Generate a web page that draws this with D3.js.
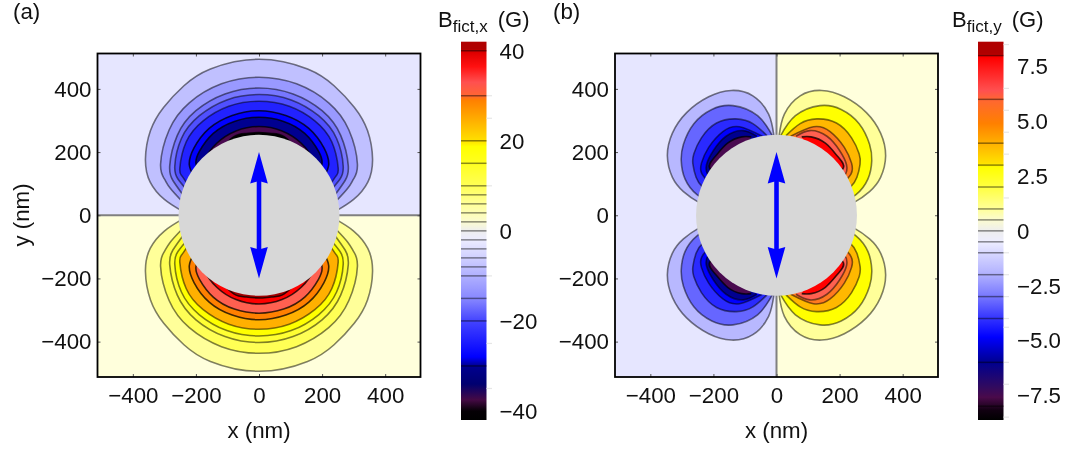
<!DOCTYPE html>
<html><head><meta charset="utf-8">
<script src="https://cdn.jsdelivr.net/npm/d3@7"></script>
<style>html,body{margin:0;background:#fff}svg{display:block;font-family:"Liberation Sans",Arial,sans-serif;fill:#111;filter:blur(0.35px)}</style>
</head><body><div id="c"></div>
<script>
// Contour outlines, quadrant x>=0 y>=0, in nm (outermost first).
const contoursX = [
  [[0,494],[154,463],[238,410],[302,342],[344,268],[360,178],[345,105],[300,50],[245,14]],
  [[0,437],[119,416],[221,356],[285,270],[312,162],[300,115],[282,86],[245,45]],
  [[0,403],[108,384],[200,331],[259,253],[283,157],[273,110],[243,67]],
  [[0,382],[102,365],[189,315],[246,243],[267,155],[257,115],[233,85]],
  [[0,361],[96,345],[177,299],[231,232],[251,150],[245,125],[228,100]],
  [[0,331],[85,316],[158,275],[206,213],[221,160],[205,120]],
  [[0,310],[78,297],[145,259],[189,202],[200,165],[190,130]],
  [[0,281],[73,267],[134,228],[175,169],[190,100]],
  [[0,262],[40,259],[80,249],[130,200]]
];
const contoursY = [
  [[8,250],[25,320],[75,378],[143,395],[215,375],[285,325],[330,260],[346,188],[330,120],[295,75],[245,40],[200,20]],
  [[12,250],[60,315],[138,347],[205,335],[262,290],[295,225],[302,173],[290,115],[252,65],[200,35]],
  [[30,252],[75,290],[127,305],[190,292],[238,245],[262,195],[265,162],[255,120],[235,90],[195,60]],
  [[45,250],[117,280],[170,265],[215,215],[238,165],[236,130],[200,90]],
  [[62,250],[106,268],[160,250],[200,205],[222,160],[215,125],[180,100]],
  [[80,248],[110,248],[155,228],[195,185],[212,150],[170,110]]
];
const bandsXPos = ["#ffff99","#ffff55","#ffff33","#ffff00","#ffb000","#ff8000","#ff6050","#ff0000","#a00000"];
const bandsXNeg = ["#c0c0ff","#9999ff","#7777ff","#5050ff","#2222ff","#0000ff","#000090","#4a0a50","#000000"];
const bandsYPos = ["#ffff99","#ffff00","#ffb800","#ff7a20","#ff6050","#ff0000"];
const bandsYNeg = ["#b8b8ff","#6666ff","#2a2aff","#0000ff","#000090","#4a0a50"];
const bgPos = "#ffffdc", bgNeg = "#e6e6ff";

const axisTicks = [-400,-200,0,200,400];
const levelsX = [40,30,20,15,10,8,6,4,2,0,-2,-4,-6,-8,-10,-15,-20,-30];
const levelsY = [8,6,4,3,2,1,0.5,0,-0.5,-1,-2,-3,-4,-6,-8];
const barLabelsX = [40,20,0,-20,-40];
const barLabelsY = [7.5,5,2.5,0,-2.5,-5,-7.5];
const minorX = [30,25,10,-10,-25,-35];
const minorY = [8.5,6.5,5.5,4.5,3.5,1.5,-1,-2,-3,-4,-4.4,-6,-7,-8.5];
const stopsXVal = [42,40.5,39.5,36.5,33,30,29,25.5,20,18.7,15,10,6,2,0,-2,-6,-10,-15,-20,-28,-30,-34,-37.5,-40,-42];
const stopsXCol = ["#b00000","#b00000","#e00000","#ff1010","#ff5050","#ff6633","#ff8000","#ffa500","#ffe000","#ffff00","#ffff20","#ffff55","#ffff99","#fbfbd0","#eeeeee","#ececff","#d0d0ff","#b0b0ff","#8888ff","#4444ff","#0000ff","#000090","#000070","#450a45","#050005","#000000"];
const stopsYVal = [8.63,8.1,7.9,6.4,6,4.9,4,3.1,2.9,2,1,0.5,0,-0.5,-1,-2,-3,-4,-4.85,-6,-7.1,-7.6,-8.2,-8.63];
const stopsYCol = ["#b00000","#b00000","#ff0000","#ff5050","#ff6633","#ff8000","#ffb000","#ffe000","#ffff00","#ffff40","#ffff99","#fbfbd0","#eeeeee","#eeeeff","#d8d8ff","#b0b0ff","#7777ff","#3333ff","#0000ff","#000090","#300a60","#4a0a4a","#100010","#000000"];
const diskRadius = 255, arrowTip = 200;

const svg = d3.select("#c").append("svg").attr("width",1074).attr("height",450);
const defs = svg.append("defs");
const fmt = d => String(d).replace("-","\u2212");
const FS = 22.3;

function panel(o){
  const x = d3.scaleLinear().domain([-512,512]).range([o.left,o.left+323]);
  const y = d3.scaleLinear().domain([-512,512]).range([377,53.5]);
  const g = svg.append("g");
  defs.append("clipPath").attr("id","clip"+o.id).append("rect")
    .attr("x",x(-512)).attr("y",y(512)).attr("width",x(512)-x(-512)).attr("height",y(-512)-y(512));
  const plot = g.append("g").attr("clip-path",`url(#clip${o.id})`);
  // backgrounds
  o.bg.forEach(b=>plot.append("rect").attr("x",x(b[0])).attr("y",y(b[3])).attr("width",x(b[1])-x(b[0])).attr("height",y(b[2])-y(b[3])).attr("fill",b[4]));
  // lobes
  o.lobes.forEach(l=>{
    l.pts.forEach((c,i)=>{
      const line = d3.line().curve(d3.curveNatural)
        .x(p=>x(l.sx*p[0])).y(p=>y(l.sy*p[1]));
      const pts = l.both ? c.slice().reverse().map(p=>[-p[0],p[1]]).concat(c.slice(1)) : c;
      plot.append("path").attr("d",line(pts)).attr("fill",l.cols[i])
        .attr("stroke","#000").attr("stroke-opacity",i>4?0.75:0.5).attr("stroke-width",1.6);
    });
  });
  // zero line
  plot.append("line").attr("x1",x(o.zero[0])).attr("y1",y(o.zero[1])).attr("x2",x(o.zero[2])).attr("y2",y(o.zero[3]))
    .attr("stroke","#808080").attr("stroke-width",2);
  // disk
  g.append("ellipse").attr("cx",x(0)).attr("cy",y(0)).attr("rx",x(diskRadius)-x(0)).attr("ry",y(0)-y(diskRadius)).attr("fill","#d7d7d7");
  // arrow
  const ax = x(0), yt = y(arrowTip), yb = y(-arrowTip);
  g.append("line").attr("x1",ax).attr("x2",ax).attr("y1",yt+20).attr("y2",yb-20).attr("stroke","#0000ff").attr("stroke-width",4.6);
  [[yt,1],[yb,-1]].forEach(([t,s])=>g.append("path").attr("fill","#0000ff")
    .attr("d",`M${ax},${t}L${ax+8.8},${t+s*31.5}L${ax},${t+s*29}L${ax-8.8},${t+s*31.5}Z`));
  // axes
  const ax1 = g.append("g").attr("transform",`translate(0,${y(-512)})`)
    .call(d3.axisBottom(x).tickValues(axisTicks).tickFormat(fmt).tickSize(-3).tickPadding(10));
  const ax2 = g.append("g").attr("transform",`translate(${x(-512)},0)`)
    .call(d3.axisLeft(y).tickValues(axisTicks).tickFormat(fmt).tickSize(-3).tickPadding(6));
  const ax3 = g.append("g").attr("transform",`translate(0,${y(512)})`)
    .call(d3.axisTop(x).tickValues(axisTicks).tickFormat("").tickSize(-3));
  const ax4 = g.append("g").attr("transform",`translate(${x(512)},0)`)
    .call(d3.axisRight(y).tickValues(axisTicks).tickFormat("").tickSize(-3));
  [ax1,ax2,ax3,ax4].forEach(a=>{
    a.select(".domain").remove();
    a.selectAll("line").attr("stroke","#555").attr("stroke-width",1);
    a.selectAll("text").attr("font-size",FS).attr("font-family","inherit").attr("fill","#111");
  });
  // frame
  g.append("rect").attr("x",x(-512)).attr("y",y(512)).attr("width",x(512)-x(-512)).attr("height",y(-512)-y(512))
    .attr("fill","none").attr("stroke","#000").attr("stroke-width",1.8);
  // titles
  g.append("text").attr("x",x(0)).attr("y",438).attr("text-anchor","middle").attr("font-size",FS).text("x (nm)");
  if(o.ylabel) g.append("text").attr("transform",`translate(${o.ylabel},215) rotate(-90)`).attr("text-anchor","middle").attr("font-size",FS).text("y (nm)");
  g.append("text").attr("x",o.tag[0]).attr("y",19).attr("font-size",FS).text(o.tag[1]);
  // colour bar
  const c = d3.scaleLinear().domain([-o.vmax,o.vmax]).range([420,41.7]);
  const gid = "grad"+o.id;
  const lg = defs.append("linearGradient").attr("id",gid).attr("x1",0).attr("x2",0).attr("y1",0).attr("y2",1);
  o.stopVal.forEach((v,i)=>lg.append("stop").attr("offset",(c(v)-c(o.vmax))/(c(-o.vmax)-c(o.vmax))).attr("stop-color",o.stopCol[i]));
  g.append("rect").attr("x",o.bar).attr("y",c(o.vmax)).attr("width",25.5).attr("height",c(-o.vmax)-c(o.vmax)).attr("fill",`url(#${gid})`);
  g.selectAll(null).data(o.minor).join("line").attr("x1",o.bar+25.5).attr("x2",o.bar+31)
    .attr("y1",d=>c(d)).attr("y2",d=>c(d)).attr("stroke","#e6e6e6").attr("stroke-width",1.2);
  g.selectAll(null).data(o.levels).join("line").attr("x1",o.bar).attr("x2",o.bar+25.5)
    .attr("y1",d=>c(d)).attr("y2",d=>c(d)).attr("stroke","#000").attr("stroke-opacity",0.45).attr("stroke-width",1.5);
  g.selectAll(null).data(o.labels).join("text").attr("x",o.bar+o.labelDx).attr("y",d=>c(d)+8)
    .attr("font-size",FS).text(d=>o.fmt(d));
  const t = g.append("text").attr("x",o.titleX).attr("y",27).attr("font-size",22);
  t.append("tspan").text("B");
  t.append("tspan").attr("font-size",17).attr("dy",5).text(o.sub);
  t.append("tspan").attr("dy",-5).attr("dx",4).text(" (G)");
}

panel({id:"a",left:97.5,tag:[13,"(a)"],ylabel:29,
  bg:[[-512,512,0,512,bgNeg],[-512,512,-512,0,bgPos]],
  lobes:[{pts:contoursX,cols:bandsXNeg,sx:1,sy:1,both:true},{pts:contoursX,cols:bandsXPos,sx:1,sy:-1,both:true}],
  zero:[-512,0,512,0],vmax:42,stopVal:stopsXVal,stopCol:stopsXCol,levels:levelsX,labels:barLabelsX,minor:minorX,
  bar:461,labelDx:38.5,titleX:438,sub:"fict,x",fmt:fmt});
panel({id:"b",left:615,tag:[553,"(b)"],ylabel:null,
  bg:[[-512,0,-512,512,bgNeg],[0,512,-512,512,bgPos]],
  lobes:[
    {pts:contoursY,cols:bandsYPos,sx:1,sy:1},{pts:contoursY,cols:bandsYPos,sx:1,sy:-1},
    {pts:contoursY,cols:bandsYNeg,sx:-1,sy:1},{pts:contoursY,cols:bandsYNeg,sx:-1,sy:-1}],
  zero:[0,-512,0,512],vmax:8.63,stopVal:stopsYVal,stopCol:stopsYCol,levels:levelsY,labels:barLabelsY,minor:minorY,
  bar:978,labelDx:39,titleX:952,sub:"fict,y",fmt:d=>fmt(d3.format(".1f")(d)).replace(/^0\.0$/,"0")});
</script></body></html>
